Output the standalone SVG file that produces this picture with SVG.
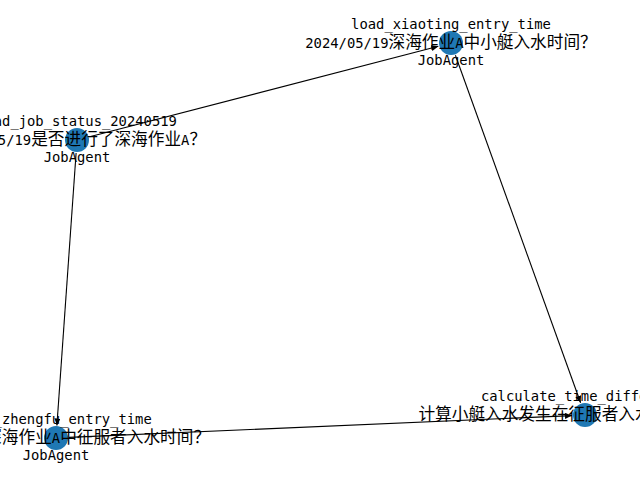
<svg xmlns="http://www.w3.org/2000/svg" width="640" height="480" viewBox="0 0 640 480">
<defs>
<style>
.n{fill:#1f78b4}
.e{stroke:#000;stroke-width:1.1;fill:none;marker-end:url(#a)}
.t{font-family:"DejaVu Sans Mono","Noto Sans CJK SC",monospace;font-size:13.84px;fill:#000;text-anchor:middle}
.c{font-family:"Noto Sans CJK SC",sans-serif;font-size:16.67px}
</style>
<marker id="a" viewBox="0 0 7 6" refX="7" refY="3" markerWidth="7" markerHeight="6" markerUnits="userSpaceOnUse" orient="auto">
<path d="M0,0 L7,3 L0,6 z" fill="#000"/>
</marker>
</defs>
<rect width="640" height="480" fill="#fff"/>
<g id="node-shapes">
<circle id="c-top" class="n" cx="451" cy="43" r="12"/>
<circle id="c-left" class="n" cx="77" cy="140" r="12"/>
<circle id="c-bottom" class="n" cx="56" cy="438" r="12"/>
<circle id="c-right" class="n" cx="585" cy="415" r="12"/>
</g>
<g id="edges">
<line class="e" x1="89.6" y1="136.7" x2="438.4" y2="46.3"/>
<line class="e" x1="455.4" y1="55.2" x2="580.6" y2="402.8"/>
<line class="e" x1="76.1" y1="153" x2="56.9" y2="425.5"/>
<line class="e" x1="69" y1="437.4" x2="572" y2="415.6"/>
</g>
<g id="load_xiaoting_entry_time">
<text class="t" x="451" y="29">load_xiaoting_entry_time</text>
<text class="t" x="451" y="48">2024/05/19<tspan class="c">深海作业</tspan>A<tspan class="c">中小艇入水时间？</tspan></text>
<text class="t" x="451" y="65">JobAgent</text>
</g>
<g id="load_job_status_20240519">
<text class="t" x="77" y="126">load_job_status_20240519</text>
<text class="t" x="77" y="145">2024/05/19<tspan class="c">是否进行了深海作业</tspan>A<tspan class="c">？</tspan></text>
<text class="t" x="77" y="162">JobAgent</text>
</g>
<g id="load_zhengfu_entry_time">
<text class="t" x="56" y="424">load_zhengfu_entry_time</text>
<text class="t" x="56" y="443">2024/05/19<tspan class="c">深海作业</tspan>A<tspan class="c">中征服者入水时间？</tspan></text>
<text class="t" x="56" y="460">JobAgent</text>
</g>
<g id="calculate_time_difference">
<text class="t" x="585" y="401">calculate_time_difference</text>
<text class="t" x="585" y="420"><tspan class="c">计算小艇入水发生在征服者入水之后多长时间</tspan></text>
</g>
</svg>
